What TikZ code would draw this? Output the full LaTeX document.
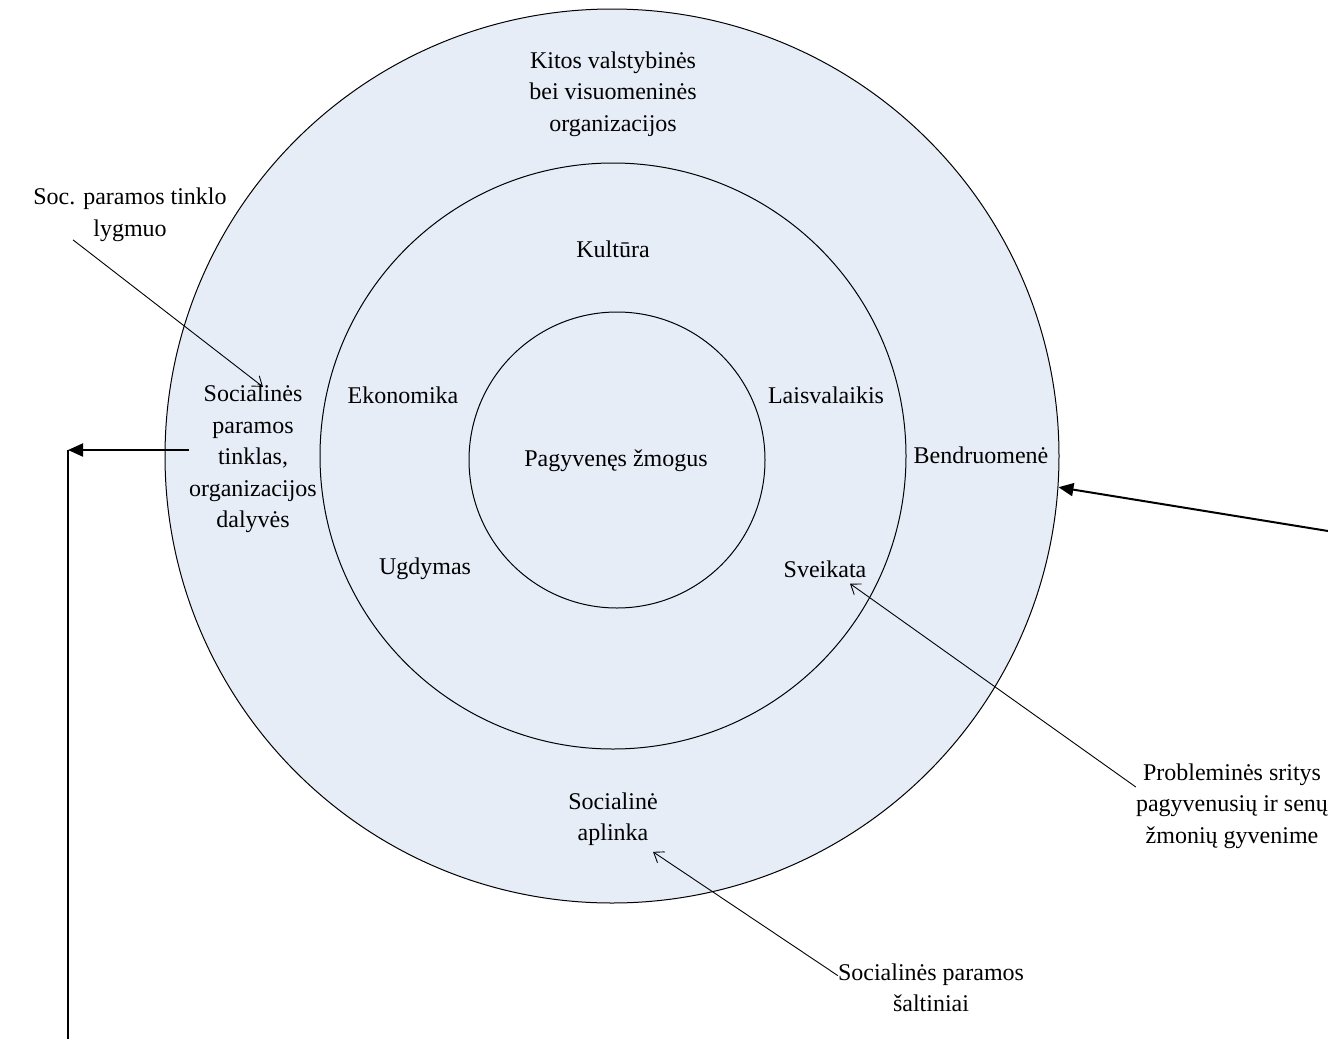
\documentclass[tikz,border=0pt]{standalone}
\usepackage{fontspec}
\setmainfont{Liberation Serif}
\usetikzlibrary{arrows.meta, positioning}
\definecolor{ringfill}{RGB}{230,237,247}

\begin{document}
\begin{tikzpicture}[x=1pt, y=-1pt, font=\fontsize{24}{31.5}\selectfont,
		txt/.style={align=center, inner sep=0pt},
		ring/.style={circle, draw, line width=1pt, fill=ringfill, inner sep=0pt},
		thinarrow/.style={line width=0.9pt, -{Straight Barb[length=9pt, width=13pt]}},
		boldarrow/.style={line width=2pt, -{Triangle[length=15pt, width=13pt]}}]
		\useasboundingbox (0,0) rectangle (1328,1039);
		% rings
		\node[ring, minimum size=894pt]	(outer)		at (612,456)	{};
		\node[ring, minimum size=586pt]	(middle)	at (613,456)	{};
		\node[ring, minimum size=296pt]	(inner)		at (617,460)	{};
		% labels inside
		\node[txt]	(kitos)		at (613,94)		{Kitos valstybinės\\bei visuomeninės\\organizacijos};
		\node[txt]	(kultura)	at (613,249)	{Kultūra};
		\node[txt]	(ekonom)	at (403,395)	{Ekonomika};
		\node[txt]	(laisv)		at (826,395)	{Laisvalaikis};
		\node[txt]	(zmogus)	at (616,461)	{Pagyvenęs žmogus};
		\node[txt]	(bendr)		at (981,455)	{Bendruomenė};
		\node[txt]	(ugdym)		at (425,569)	{Ugdymas};
		\node[txt]	(sveik)		at (825,569)	{Sveikata};
		\node[txt]	(spnet)		at (253,459)	{Socialinės\\paramos\\tinklas,\\organizacijos\\dalyvės};
		\node[txt]	(aplinka)	at (613,819)	{Socialinė\\aplinka};
		% labels outside
		\node[txt]	(lygmuo)	at (130,215)	{Soc. paramos tinklo\\lygmuo};
		\node[txt]	(saltin)	at (931,988)	{Socialinės paramos\\šaltiniai};
		\node[txt]	(probl)		at (1232,806)	{Probleminės sritys\\pagyvenusių ir senų\\žmonių gyvenime};
		\coordinate	(corner)	at (68,450);
		\coordinate	(down)		at (68,1039);
		\coordinate	(farright)	at (1328,531);
		% connectors
		\draw[thinarrow] ([xshift=-57pt, yshift=2pt]lygmuo.south) -- ([xshift=10pt, yshift=-2pt]spnet.north);
		\draw[thinarrow] ([yshift=-12pt]saltin.north west) -- ([xshift=40pt, yshift=-6pt]aplinka.south);
		\draw[thinarrow] ([yshift=19pt]probl.west) -- ([xshift=25pt, yshift=-6pt]sveik.south);
		\draw[boldarrow] (farright) -- (outer.-4.2);
		\draw[boldarrow] (corner -| spnet.west) -- (corner);
		\draw[line width=2pt] (corner) -- (down);
\end{tikzpicture}
\end{document}
